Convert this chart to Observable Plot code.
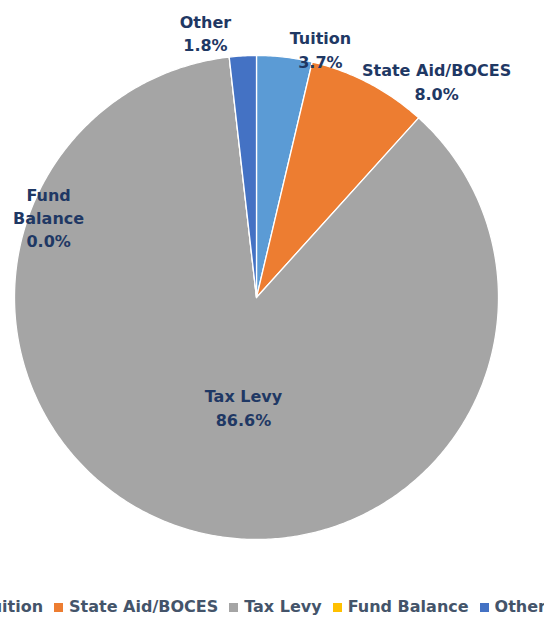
<!DOCTYPE html>
<html><head><meta charset="utf-8">
<script src="https://cdn.jsdelivr.net/npm/d3@7"></script>
<script src="https://cdn.jsdelivr.net/npm/@observablehq/plot@0.6"></script>
<style>
html,body{margin:0;padding:0;background:#fff;}
body{width:544px;height:619px;overflow:hidden;position:relative;font-family:"DejaVu Sans",sans-serif;}
#legend{position:absolute;top:598px;right:-2px;white-space:nowrap;display:flex;align-items:center;font-size:16px;font-weight:bold;color:#44546A;line-height:18px;}
#legend .item{display:flex;align-items:center;margin-left:11px;}
#legend .sw{width:9px;height:9px;margin-right:6px;display:inline-block;}
</style></head><body>
<div id="chart"></div>
<div id="legend"></div>
<script>
// Data
const categories = ["Tuition", "State Aid/BOCES", "Tax Levy", "Fund Balance", "Other"];
const shares = [3.7, 8.0, 86.6, 0.0, 1.8];
const shareLabels = ["3.7%", "8.0%", "86.6%", "0.0%", "1.8%"];
const labelNames = ["Tuition", "State Aid/BOCES", "Tax Levy", "Fund\nBalance", "Other"];
const colors = ["#5B9BD5", "#ED7D31", "#A5A5A5", "#FFC000", "#4472C4"];
// label placement (angle in degrees clockwise from top, radius as fraction of pie radius)
const labelAngle = [14.4, 39.7, 186.8, -68.7, -10.9];
const labelRadius = [1.062, 1.165, 0.454, 0.922, 1.116];

const arcs = d3.pie().sort(null).value(d => d).startAngle(0).endAngle(2 * Math.PI)(shares);

const pts = [];
arcs.forEach((a, i) => {
  pts.push({cat: categories[i], x: 0, y: 0});
  const n = Math.max(2, Math.ceil((a.endAngle - a.startAngle) / 0.01));
  for (let k = 0; k <= n; k++) {
    const t = a.startAngle + (a.endAngle - a.startAngle) * k / n;
    pts.push({cat: categories[i], x: Math.sin(t), y: Math.cos(t)});
  }
  pts.push({cat: categories[i], x: 0, y: 0});
});

const labels = categories.map((c, i) => {
  const t = labelAngle[i] * Math.PI / 180;
  return {text: labelNames[i] + "\n" + shareLabels[i], x: labelRadius[i] * Math.sin(t), y: labelRadius[i] * Math.cos(t)};
});

const chart = Plot.plot({
  width: 544,
  height: 590,
  margin: 0,
  x: {domain: [-1, 1], range: [14, 498], axis: null},
  y: {domain: [-1, 1], range: [539, 55], axis: null},
  color: {domain: categories, range: colors},
  style: {background: "white", fontFamily: "DejaVu Sans, sans-serif"},
  marks: [
    Plot.line(pts, {x: "x", y: "y", z: "cat", fill: "cat", stroke: "white", strokeWidth: 1.3, strokeLinejoin: "round"}),
    Plot.text(labels, {x: "x", y: "y", text: "text", fontSize: 16, fontWeight: "bold", fill: "#1F3864", lineHeight: 1.45})
  ]
});
document.getElementById("chart").appendChild(chart);

const legend = document.getElementById("legend");
categories.forEach((c, i) => {
  const item = document.createElement("span");
  item.className = "item";
  const sw = document.createElement("span");
  sw.className = "sw";
  sw.style.background = colors[i];
  item.appendChild(sw);
  item.appendChild(document.createTextNode(c));
  legend.appendChild(item);
});
</script>
</body></html>
